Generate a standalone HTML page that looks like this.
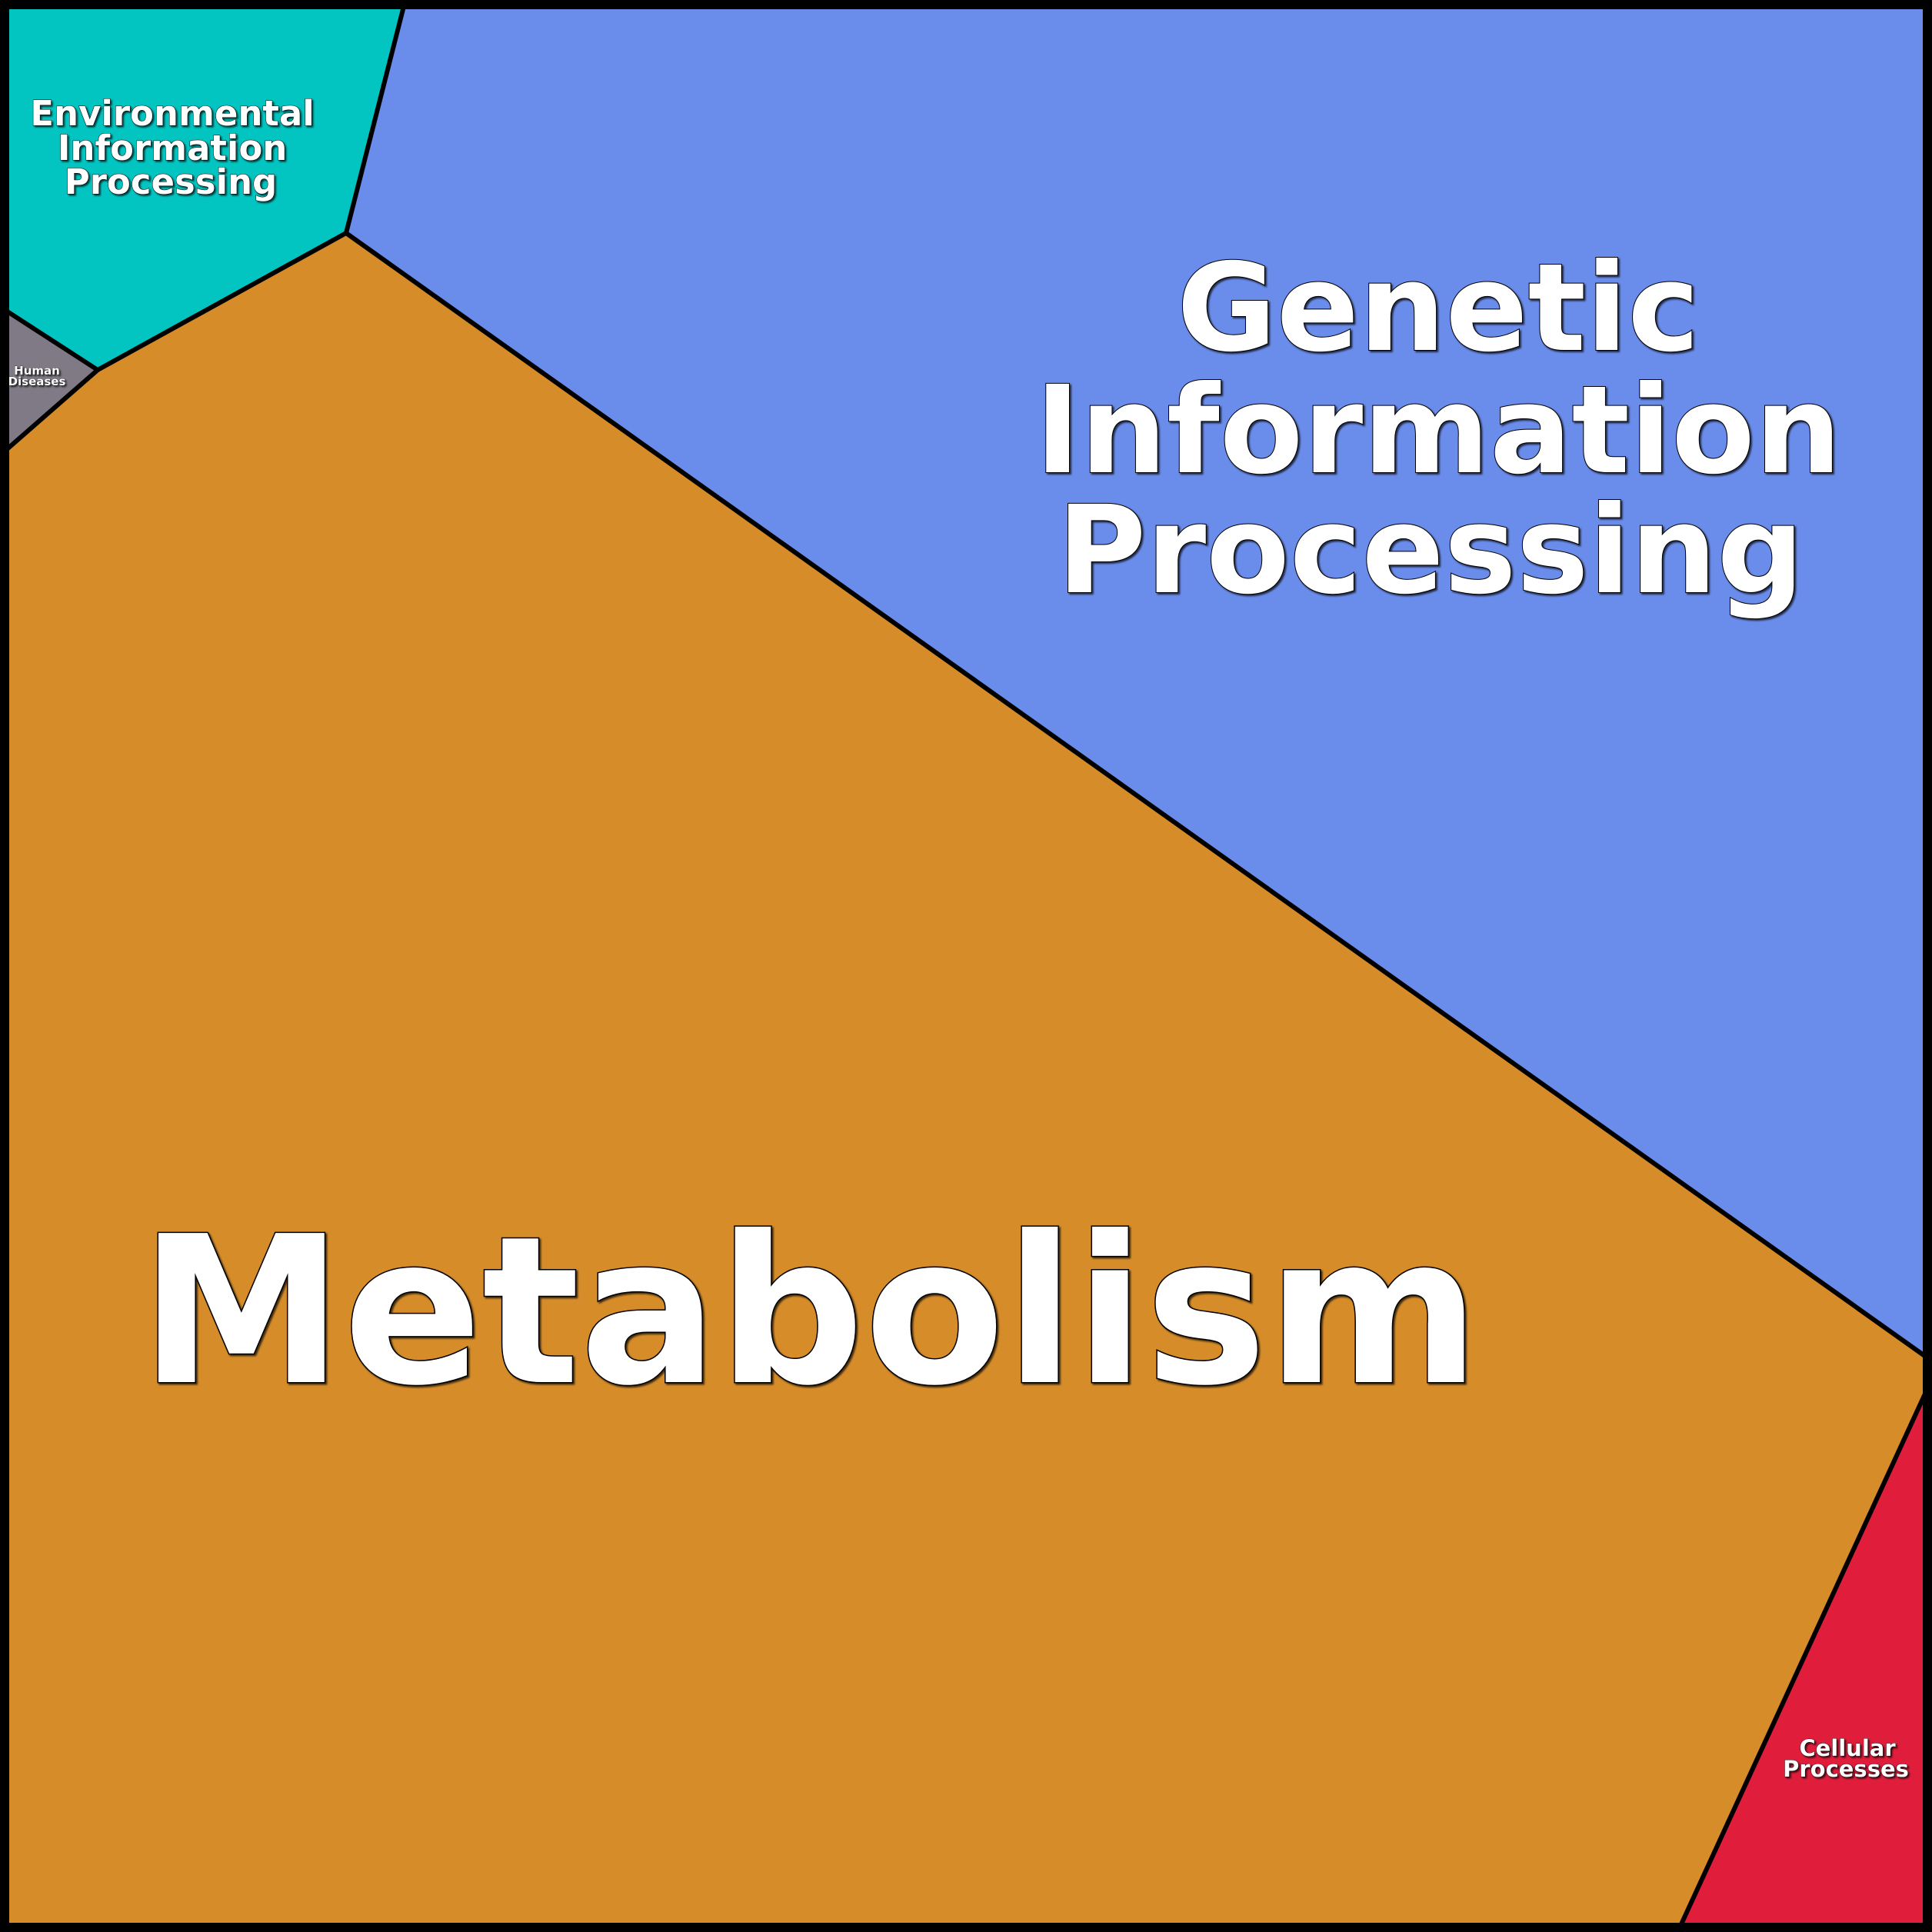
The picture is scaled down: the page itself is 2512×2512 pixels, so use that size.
<!DOCTYPE html>
<html><head><meta charset="utf-8"><style>
html,body{margin:0;padding:0;background:#000;}
svg{display:block;}
text{font-family:"DejaVu Sans","Liberation Sans",sans-serif;font-weight:bold;fill:#fff;stroke:#000;text-anchor:middle;paint-order:stroke;}
</style></head><body>
<svg width="2512" height="2512" viewBox="0 0 2512 2512" xmlns="http://www.w3.org/2000/svg">
<defs><filter id="sh" x="-10%" y="-10%" width="120%" height="120%"><feDropShadow dx="2" dy="2" stdDeviation="1" flood-color="#000" flood-opacity="0.7"/></filter></defs>
<rect x="0" y="0" width="2512" height="2512" fill="#d68c29"/>
<polygon points="525,8 2504,8 2504,1764 450,303" fill="#6a8cea"/>
<polygon points="8,8 525,8 450,303 127,481 8,404" fill="#02c4c0"/>
<polygon points="8,404 127,481 8,585" fill="#7f7a85"/>
<polygon points="2504,1810 2504,2504 2185,2504" fill="#e01e3c"/>
<g fill="none" stroke="#000" stroke-width="6" stroke-linejoin="round">
<polyline points="525,8 450,303 127,481 8,404"/>
<polyline points="127,481 8,585"/>
<polyline points="450,303 2504,1764"/>
<polyline points="2504,1810 2185,2504"/>
</g>
<rect x="6" y="6" width="2500" height="2500" fill="none" stroke="#000" stroke-width="12"/>
<g filter="url(#sh)">
<text x="1053" y="1797" font-size="266" stroke-width="3">Metabolism</text>
<text x="1870" y="455" font-size="158" stroke-width="2">Genetic</text>
<text x="1870" y="614" font-size="158" stroke-width="2">Information</text>
<text x="1860" y="770" font-size="158" stroke-width="2">Processing</text>
<text x="224" y="163" font-size="45" stroke-width="1">Environmental</text>
<text x="224" y="208" font-size="45" stroke-width="1">Information</text>
<text x="222" y="252" font-size="45" stroke-width="1">Processing</text>
<text x="48" y="487" font-size="15" stroke-width="0.5">Human</text>
<text x="48" y="501" font-size="15" stroke-width="0.5">Diseases</text>
<text x="2402" y="2283" font-size="29" stroke-width="0.8">Cellular</text>
<text x="2400" y="2310" font-size="29" stroke-width="0.8">Processes</text>
</g>
</svg>
</body></html>
